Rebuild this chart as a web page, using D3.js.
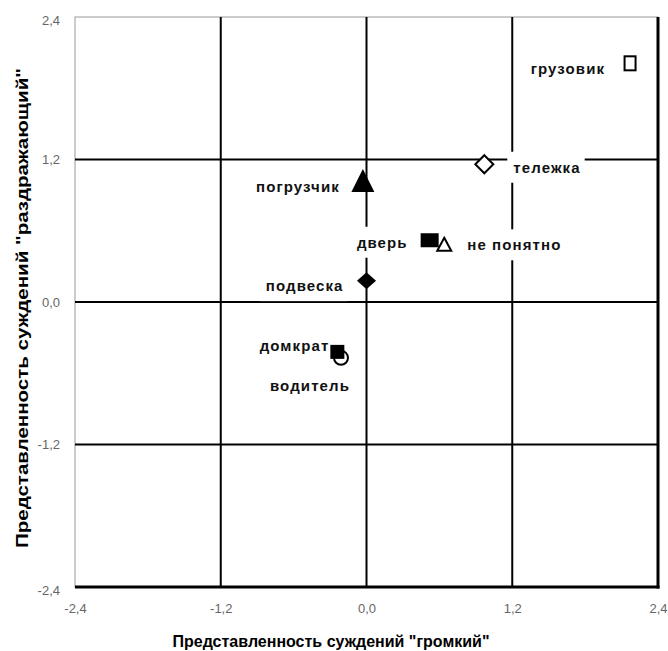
<!DOCTYPE html>
<html>
<head>
<meta charset="utf-8">
<script src="https://cdn.jsdelivr.net/npm/d3@7"></script>
<style>
  body { margin: 0; background: #fff; }
  svg { display: block; font-family: "Liberation Sans", Arial, sans-serif; }
</style>
</head>
<body>
<svg id="chart" width="668" height="651"></svg>
<script>
// data
var names = ["грузовик", "тележка", "погрузчик", "дверь", "не понятно", "подвеска", "водитель", "домкрат"];
var xValues = [2.17, 0.97, -0.03, 0.52, 0.64, 0.0, -0.21, -0.24];
var yValues = [2.01, 1.16, 1.02, 0.52, 0.49, 0.18, -0.47, -0.42];
var shapes = ["squareOpen", "diamondOpen", "triangle", "square", "triangleOpen", "diamond", "circleOpen", "square"];
var ticks = [-2.4, -1.2, 0, 1.2, 2.4];

// label placement relative to its marker (layout only)
var labelAnchor = ["end", "start", "end", "end", "start", "end", "end", "end"];
var labelDx = [-25, 29, -23, -22, 23, -23, 9, -8];
var labelDy = [5, 3, 6, 2, 1, 5, 28, -6];

var svg = d3.select('#chart');
var plotLeft = 75, plotRight = 658, plotTop = 17, plotBottom = 587;

var x = d3.scaleLinear().domain([-2.4, 2.4]).range([plotLeft, plotRight]);
var y = d3.scaleLinear().domain([-2.4, 2.4]).range([plotBottom, plotTop]);
var fmt = function (d) { return d3.format('.1f')(d).replace('.', ',').replace('−', '-'); };

// frame (thin on left/top, heavy on right/bottom)
svg.append('rect')
    .attr('x', plotLeft).attr('y', plotTop)
    .attr('width', plotRight - plotLeft).attr('height', plotBottom - plotTop)
    .attr('fill', '#fff')
    .attr('stroke', '#999')
    .attr('stroke-width', 1);

// grid lines
var grid = svg.append('g');
grid.selectAll('line.v')
    .data(ticks.slice(1, -1))
    .enter().append('line')
    .attr('x1', function (d) { return x(d); }).attr('x2', function (d) { return x(d); })
    .attr('y1', plotTop).attr('y2', plotBottom)
    .attr('stroke', '#000').attr('stroke-width', 2);
grid.selectAll('line.h')
    .data(ticks.slice(1, -1))
    .enter().append('line')
    .attr('y1', function (d) { return y(d); }).attr('y2', function (d) { return y(d); })
    .attr('x1', plotLeft).attr('x2', plotRight)
    .attr('stroke', '#000').attr('stroke-width', 2);

svg.append('line')
    .attr('x1', plotRight).attr('x2', plotRight).attr('y1', plotTop).attr('y2', plotBottom + 1.5)
    .attr('stroke', '#000').attr('stroke-width', 3);
svg.append('line')
    .attr('x1', plotLeft).attr('x2', plotRight + 1.5).attr('y1', plotBottom).attr('y2', plotBottom)
    .attr('stroke', '#000').attr('stroke-width', 3);

// axes (labels only)
var xAxis = svg.append('g')
    .attr('transform', 'translate(0,' + (plotBottom + 14) + ')')
    .call(d3.axisBottom(x).tickValues(ticks).tickFormat(fmt).tickSize(0));
xAxis.select('.domain').remove();
xAxis.selectAll('text').attr('fill', '#666').attr('font-size', 13).attr('font-family', '"Liberation Sans", Arial, sans-serif');

var yAxis = svg.append('g')
    .attr('transform', 'translate(' + (plotLeft - 12) + ',0)')
    .call(d3.axisLeft(y).tickValues(ticks).tickFormat(fmt).tickSize(0));
yAxis.select('.domain').remove();
yAxis.selectAll('text').attr('fill', '#666').attr('font-size', 13).attr('font-family', '"Liberation Sans", Arial, sans-serif');
yAxis.selectAll('.tick').filter(function (d) { return d === 2.4; }).select('text').attr('dy', '0.6em');
yAxis.selectAll('.tick').filter(function (d) { return d === -2.4; }).select('text').attr('dy', '0.6em');

// axis titles
svg.append('text')
    .attr('x', 331).attr('y', 647)
    .attr('text-anchor', 'middle')
    .attr('font-size', 16).attr('font-weight', 'bold')
    .text('Представленность суждений "громкий"');
svg.append('text')
    .attr('transform', 'translate(28,308) rotate(-90)')
    .attr('text-anchor', 'middle')
    .attr('font-size', 16).attr('font-weight', 'bold')
    .attr('textLength', 480).attr('lengthAdjust', 'spacingAndGlyphs')
    .text('Представленность суждений "раздражающий"');

var points = names.map(function (n, i) {
    return { name: n, x: xValues[i], y: yValues[i], shape: shapes[i],
             anchor: labelAnchor[i], dx: labelDx[i], dy: labelDy[i] };
});

// labels with white boxes that cut the grid
var labels = svg.append('g');
points.forEach(function (d) {
    var px = x(d.x), py = y(d.y);
    var g = labels.append('g');
    var t = g.append('text')
        .attr('x', px + d.dx).attr('y', py + d.dy)
        .attr('text-anchor', d.anchor)
        .attr('font-size', 15).attr('font-weight', 'bold')
        .attr('letter-spacing', 1.1)
        .attr('dominant-baseline', 'central')
        .attr('fill', '#111')
        .text(d.name);
    var b = t.node().getBBox();
    g.insert('rect', 'text')
        .attr('x', b.x - 6).attr('y', b.y - 7)
        .attr('width', b.width + 10).attr('height', b.height + 14)
        .attr('fill', '#fff');
});

// markers
var shapePath = {
    triangle: 'M0,-12L11.5,11L-11.5,11Z',
    triangleOpen: 'M0,-6L7,7L-7,7Z',
    diamond: 'M0,-8.5L9.5,0L0,8.5L-9.5,0Z',
    diamondOpen: 'M0,-9L9,0L0,9L-9,0Z'
};
var marks = svg.append('g');
points.forEach(function (d) {
    var px = x(d.x), py = y(d.y);
    var m;
    if (d.shape === 'square') {
        var w = d.name === 'дверь' ? 18 : 14;
        m = marks.append('rect').attr('x', px - w / 2).attr('y', py - 7).attr('width', w).attr('height', 14);
    } else if (d.shape === 'squareOpen') {
        m = marks.append('rect').attr('x', px - 5.5).attr('y', py - 7).attr('width', 11).attr('height', 14);
    } else if (d.shape === 'circleOpen') {
        m = marks.append('circle').attr('cx', px).attr('cy', py).attr('r', 7);
    } else {
        m = marks.append('path').attr('d', shapePath[d.shape]).attr('transform', 'translate(' + px + ',' + py + ')');
    }
    if (d.shape.indexOf('Open') > -1) {
        m.attr('fill', '#fff').attr('stroke', '#000').attr('stroke-width', 2);
    } else {
        m.attr('fill', '#000').attr('stroke', 'none');
    }
});
</script>
</body>
</html>
